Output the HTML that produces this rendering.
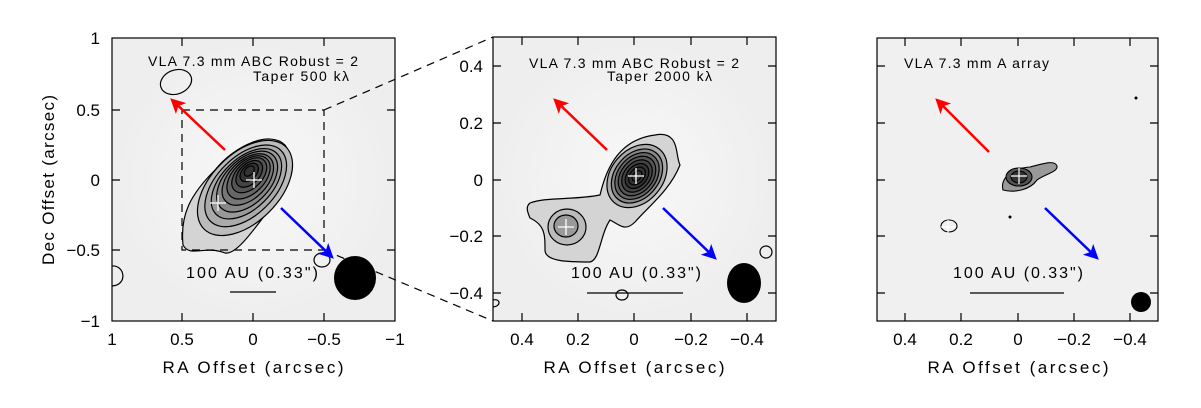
<!DOCTYPE html><html><head><style>body{margin:0;background:#fff}svg text{font-family:"Liberation Sans",sans-serif;fill:#000}</style></head><body>
<svg width="1201" height="403" xmlns="http://www.w3.org/2000/svg">
<defs>
<radialGradient id="bg"><stop offset="0" stop-color="#f8f8f8"/><stop offset="1" stop-color="#eeeeee"/></radialGradient>
<marker id="ar" markerWidth="6" markerHeight="6" refX="5" refY="3" orient="auto" markerUnits="strokeWidth"><path d="M0,0 L6,3 L0,6 L1.5,3z" fill="red"/></marker>
<marker id="ab" markerWidth="6" markerHeight="6" refX="5" refY="3" orient="auto" markerUnits="strokeWidth"><path d="M0,0 L6,3 L0,6 L1.5,3z" fill="blue"/></marker>
</defs>
<!-- panel 1 -->
<rect x="112" y="38" width="283" height="283" fill="url(#bg)"/>
<g fill="none" stroke="#000" stroke-width="1.2">
<path d="M183,245 C180,215 190,195 215,170 C235,145 270,130 285,145 C300,165 285,200 265,215 C250,235 235,255 225,253 C205,245 190,258 183,245Z" fill="#d4d4d4"/>
<g transform="rotate(-45 245 188)">
<ellipse cx="245" cy="188" rx="58" ry="34" fill="#bbb"/>
<ellipse cx="247" cy="187" rx="50" ry="29" fill="#aaa"/>
<ellipse cx="249" cy="186" rx="43" ry="25" fill="#999"/>
<ellipse cx="251" cy="185" rx="37" ry="22" fill="#888"/>
<ellipse cx="253" cy="184" rx="31" ry="19" fill="#777"/>
<ellipse cx="255" cy="183" rx="26" ry="16" fill="#666"/>
<ellipse cx="257" cy="182" rx="21" ry="13" fill="#555"/>
<ellipse cx="258" cy="181" rx="16" ry="10" fill="#444"/>
<ellipse cx="259" cy="180" rx="11" ry="7" fill="#333"/>
<ellipse cx="260" cy="179" rx="6" ry="4"/>
</g>
<ellipse cx="176" cy="82" rx="16" ry="12" transform="rotate(-20 176 82)"/>
<path d="M112,266 C125,265 128,285 112,286"/>
<ellipse cx="322" cy="260" rx="8" ry="7"/>
<rect x="182" y="110" width="142" height="140" stroke-dasharray="8,6"/>
<path d="M324,110 L493,37 M324,250 L493,321" stroke-dasharray="8,6"/>
</g>
<path d="M246,180h16M254,172v16M210,203h16M218,195v16" stroke="#fff" stroke-width="1.3"/>
<line x1="225" y1="150" x2="172" y2="100" stroke="red" stroke-width="2.5" marker-end="url(#ar)"/>
<line x1="281" y1="208" x2="332" y2="257" stroke="blue" stroke-width="2.5" marker-end="url(#ab)"/>
<ellipse cx="355" cy="278" rx="21" ry="22" fill="#000"/>
<line x1="230" y1="292" x2="276" y2="292" stroke="#000" stroke-width="1.2"/>
<text x="148" y="66" font-size="14" textLength="210">VLA 7.3 mm ABC Robust = 2</text>
<text x="253" y="81" font-size="14" textLength="96">Taper 500 kλ</text>
<text x="186" y="278" font-size="16" textLength="132">100 AU (0.33")</text>
<rect x="112" y="38" width="283" height="283" fill="none" stroke="#000" stroke-width="1.2"/>
<path d="M182,38v8M253,38v8M324,38v8M182,321v-8M253,321v-8M324,321v-8M112,110h8M112,180h8M112,250h8M395,110h-8M395,180h-8M395,250h-8" stroke="#000" stroke-width="1.2"/>
<g font-size="17" text-anchor="middle">
<text x="112" y="345">1</text><text x="182" y="345">0.5</text><text x="253" y="345">0</text><text x="324" y="345">−0.5</text><text x="395" y="345">−1</text>
<text x="253" y="373" textLength="181">RA Offset (arcsec)</text>
</g>
<g font-size="17" text-anchor="end">
<text x="100" y="44">1</text><text x="100" y="116">0.5</text><text x="100" y="186">0</text><text x="100" y="256">−0.5</text><text x="100" y="327">−1</text>
</g>
<text transform="translate(54 180) rotate(-90)" font-size="17" text-anchor="middle" textLength="170">Dec Offset (arcsec)</text>
<!-- panel 2 -->
<rect x="493" y="37" width="283" height="284" fill="url(#bg)"/>
<g fill="none" stroke="#000" stroke-width="1.2">
<path d="M530,203 C545,197 575,200 600,195 C605,175 615,140 655,135 C680,130 675,155 680,165 C670,190 650,205 635,222 C625,232 620,225 610,220 C600,235 600,260 590,262 C570,262 545,262 545,250 C545,235 545,225 530,218 C528,213 525,207 530,203Z" fill="#d4d4d4"/>
<g transform="rotate(-50 637 176)">
<ellipse cx="637" cy="176" rx="35" ry="26" fill="#aaa"/>
<ellipse cx="637" cy="176" rx="30" ry="22" fill="#888"/>
<ellipse cx="637" cy="176" rx="26" ry="19" fill="#666"/>
<ellipse cx="637" cy="176" rx="22" ry="16" fill="#555"/>
<ellipse cx="637" cy="176" rx="18" ry="13" fill="#444"/>
<ellipse cx="637" cy="176" rx="14" ry="10" fill="#333"/>
<ellipse cx="637" cy="176" rx="10" ry="7"/>
<ellipse cx="637" cy="176" rx="6" ry="4"/>
</g>
<ellipse cx="567" cy="227" rx="19" ry="18" fill="#bbb"/>
<ellipse cx="566" cy="226" rx="12" ry="11" fill="#999"/>
<ellipse cx="622" cy="295" rx="6" ry="5"/>
<ellipse cx="766" cy="252" rx="6" ry="6"/>
<path d="M493,300 C500,298 502,306 493,307"/>
</g>
<path d="M628,176h16M636,168v16M558,227h16M566,219v16" stroke="#fff" stroke-width="1.3"/>
<line x1="607" y1="150" x2="555" y2="100" stroke="red" stroke-width="2.5" marker-end="url(#ar)"/>
<line x1="663" y1="208" x2="715" y2="258" stroke="blue" stroke-width="2.5" marker-end="url(#ab)"/>
<ellipse cx="744" cy="283" rx="17" ry="20" fill="#000"/>
<line x1="587" y1="293" x2="683" y2="293" stroke="#000" stroke-width="1.2"/>
<text x="529" y="68" font-size="14" textLength="210">VLA 7.3 mm ABC Robust = 2</text>
<text x="607" y="81" font-size="14" textLength="105">Taper 2000 kλ</text>
<text x="571" y="278" font-size="16" textLength="130">100 AU (0.33")</text>
<rect x="493" y="37" width="283" height="284" fill="none" stroke="#000" stroke-width="1.2"/>
<path d="M522,37v8M578,37v8M634,37v8M691,37v8M747,37v8M522,321v-8M578,321v-8M634,321v-8M691,321v-8M747,321v-8M493,66h8M493,123h8M493,180h8M493,236h8M493,293h8M776,66h-8M776,123h-8M776,180h-8M776,236h-8M776,293h-8" stroke="#000" stroke-width="1.2"/>
<g font-size="17" text-anchor="middle">
<text x="522" y="345">0.4</text><text x="578" y="345">0.2</text><text x="634" y="345">0</text><text x="691" y="345">−0.2</text><text x="747" y="345">−0.4</text>
<text x="634" y="373" textLength="181">RA Offset (arcsec)</text>
</g>
<g font-size="17" text-anchor="end">
<text x="483" y="72">0.4</text><text x="483" y="129">0.2</text><text x="483" y="186">0</text><text x="483" y="242">−0.2</text><text x="483" y="299">−0.4</text>
</g>
<!-- panel 3 -->
<rect x="877" y="38" width="281" height="283" fill="#f0f0f0"/>
<g fill="none" stroke="#000" stroke-width="1.1">
<path d="M1003,190 C1000,178 1012,168 1030,167 C1045,163 1055,160 1057,166 C1058,172 1045,174 1037,180 C1030,190 1015,193 1003,190Z" fill="#999"/>
<ellipse cx="1019" cy="177" rx="13" ry="9" fill="#555"/>
<ellipse cx="1019" cy="177" rx="8" ry="6" fill="#333"/>
<ellipse cx="949" cy="226" rx="8" ry="6"/>
</g>
<path d="M1011,176h16M1019,168v16M941,227h14M948,220v14" stroke="#fff" stroke-width="1.2"/>
<circle cx="1136" cy="98" r="1.5" fill="#000"/>
<circle cx="1010" cy="217" r="1.5" fill="#000"/>
<line x1="989" y1="152" x2="937" y2="100" stroke="red" stroke-width="2.5" marker-end="url(#ar)"/>
<line x1="1045" y1="208" x2="1097" y2="258" stroke="blue" stroke-width="2.5" marker-end="url(#ab)"/>
<ellipse cx="1141" cy="302" rx="10" ry="10" fill="#000"/>
<line x1="970" y1="293" x2="1064" y2="293" stroke="#000" stroke-width="1.2"/>
<text x="904" y="68" font-size="14" textLength="145">VLA 7.3 mm A array</text>
<text x="953" y="278" font-size="16" textLength="130">100 AU (0.33")</text>
<rect x="877" y="38" width="281" height="283" fill="none" stroke="#000" stroke-width="1.2"/>
<path d="M905,38v8M961,38v8M1018,38v8M1074,38v8M1130,38v8M905,321v-8M961,321v-8M1018,321v-8M1074,321v-8M1130,321v-8M877,66h8M877,123h8M877,180h8M877,236h8M877,293h8M1158,66h-8M1158,123h-8M1158,180h-8M1158,236h-8M1158,293h-8" stroke="#000" stroke-width="1.2"/>
<g font-size="17" text-anchor="middle">
<text x="905" y="345">0.4</text><text x="961" y="345">0.2</text><text x="1018" y="345">0</text><text x="1074" y="345">−0.2</text><text x="1130" y="345">−0.4</text>
<text x="1018" y="373" textLength="181">RA Offset (arcsec)</text>
</g>
</svg>
</body></html>
